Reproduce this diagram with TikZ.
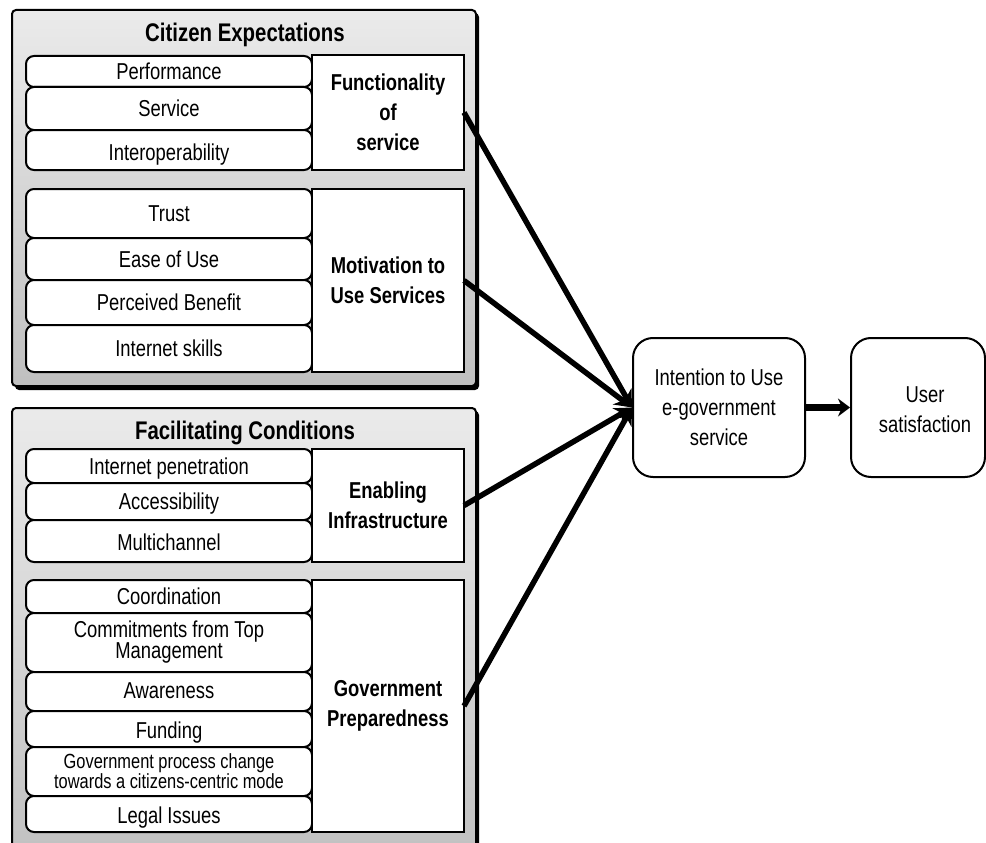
\documentclass[tikz,border=0pt]{standalone}
\usepackage{fontspec}
\setmainfont{Liberation Sans}[FakeStretch=0.8]
\usetikzlibrary{arrows.meta}

\newcommand\dgItemFont{\fontsize{23}{21}\selectfont}
\newcommand\dgSmallFont{\fontsize{20.5}{15}\selectfont}
\newcommand\dgGroupFont{\bfseries\fontsize{23}{30}\selectfont}
\newcommand\dgTitleFont{\bfseries\fontsize{25.5}{30}\selectfont}
\newcommand\dgMainFont{\fontsize{23}{30}\selectfont}

\tikzset{
  panel/.style={draw, line width=2pt, rounded corners=4pt,
    top color=black!8, bottom color=black!25},
  panelshadow/.style={fill=black, rounded corners=4pt},
  paneltitle/.style={font=\dgTitleFont, inner sep=0pt},
  item/.style={draw, line width=2pt, rounded corners=8pt, fill=white,
    minimum width=286pt, inner sep=0pt, outer sep=0pt, align=center,
    font=\dgItemFont},
  oneline/.style={text height=#1, text depth=4pt},
  oneline/.default=20pt,
  group/.style={draw, line width=2pt, fill=white, minimum width=152pt,
    inner sep=0pt, outer sep=0pt, align=center, font=\dgGroupFont},
  stage/.style={draw, line width=2pt, rounded corners=20pt, fill=white,
    minimum height=139pt, inner sep=0pt, align=center, font=\dgMainFont},
  conn/.style={line width=5.5pt, -{Stealth[length=17pt,width=18pt]}},
  lead/.style={line width=6.5pt, -{Stealth[length=12pt,width=18pt]}}
}

\begin{document}
\begin{tikzpicture}[x=1pt, y=-1pt]
\useasboundingbox (0,0) rectangle (986,843);
\clip (0,0) rectangle (986,843);

% outer panels with drop shadows
\fill[panelshadow] (15,13) rectangle (479,390);
\draw[panel] (12,10) rectangle (476,386);
\fill[panelshadow] (15,411) rectangle (479,880);
\draw[panel] (12,408) rectangle (476,876);

\node[paneltitle] (ce) at (245,35) {Citizen Expectations};
\node[paneltitle] (fc) at (245,433) {Facilitating Conditions};

% Functionality of service
\node[item, oneline, minimum height=31pt] (perf) at (169,71.5) {Performance};
\node[item, oneline, minimum height=43pt] (serv) at (169,108.5) {Service};
\node[item, oneline=24pt, minimum height=40pt] (inter) at (169,150) {Interoperability};
\node[group, minimum height=115pt] (func) at (388,112.5) {Functionality\\of\\service};

% Motivation to use services
\node[item, oneline, minimum height=49pt] (trust) at (169,213.5) {Trust};
\node[item, oneline, minimum height=42pt] (ease) at (169,259) {Ease of Use};
\node[item, oneline, minimum height=45pt] (benefit) at (169,302.5) {Perceived Benefit};
\node[item, oneline, minimum height=47pt] (skills) at (169,348.5) {Internet skills};
\node[group, minimum height=183pt] (motiv) at (388,280.5) {Motivation to\\Use Services};

% Enabling infrastructure
\node[item, oneline, minimum height=34pt] (pen) at (169,466) {Internet penetration};
\node[item, oneline, minimum height=37pt] (access) at (169,501.5) {Accessibility};
\node[item, oneline=22pt, minimum height=42pt] (multi) at (169,541) {Multichannel};
\node[group, minimum height=113pt] (infra) at (388,505.5) {Enabling\\Infrastructure};

% Government preparedness
\node[item, oneline, minimum height=33pt] (coord) at (169,596.5) {Coordination};
\node[item, minimum height=59pt] (commit) at (169,642.5) {Commitments from Top\\Management};
\node[item, oneline=18pt, minimum height=39pt] (aware) at (169,691.5) {Awareness};
\node[item, oneline=22pt, minimum height=36pt] (fund) at (169,729) {Funding};
\node[item, minimum height=49pt, font=\dgSmallFont] (proc) at (169,771.5)
  {Government process change\\towards a citizens-centric mode};
\node[item, oneline=22pt, minimum height=36pt] (legal) at (169,814) {Legal Issues};
\node[group, minimum height=252pt] (prep) at (388,706) {Government\\Preparedness};

% outcome stages
\node[stage, minimum width=172pt] (intent) at (719,407.5)
  {Intention to Use\\e-government\\service};
\node[stage, minimum width=134pt] (user) at (918,407.5) {};
\node[font=\dgMainFont, align=center, inner sep=0pt] (usertext) at (925,410)
  {User\\satisfaction};

% connectors
\draw[conn] (func.east) -- (intent.west);
\draw[conn] (motiv.east) -- (intent.west);
\draw[conn] (infra.east) -- (intent.west);
\draw[conn] (prep.east) -- (intent.west);
\draw[lead] (intent.east) -- (user.west);
\end{tikzpicture}
\end{document}
